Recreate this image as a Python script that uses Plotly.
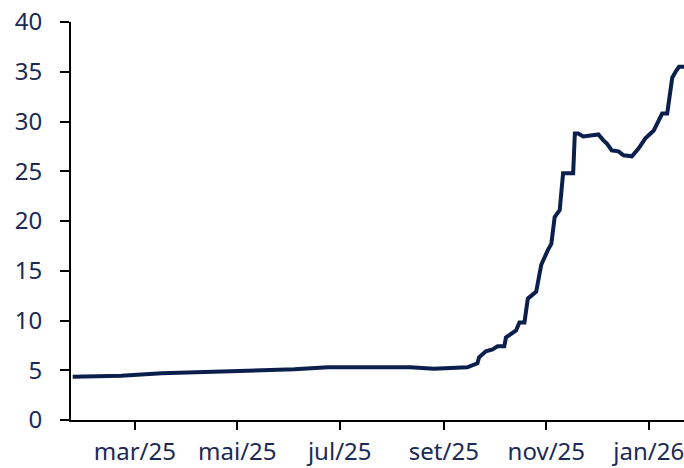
import plotly.graph_objects as go

dates = [
    "2025-01-23", "2025-02-21", "2025-03-17", "2025-04-17", "2025-04-26",
    "2025-05-15", "2025-06-04", "2025-06-24", "2025-08-02", "2025-08-12",
    "2025-08-26", "2025-09-15", "2025-09-21", "2025-09-22", "2025-09-26",
    "2025-09-30", "2025-10-03", "2025-10-07", "2025-10-08", "2025-10-14",
    "2025-10-16", "2025-10-19", "2025-10-21", "2025-10-26", "2025-10-27",
    "2025-10-29", "2025-11-02", "2025-11-04", "2025-11-06", "2025-11-09",
    "2025-11-11", "2025-11-17", "2025-11-18", "2025-11-20", "2025-11-23",
    "2025-12-02", "2025-12-05", "2025-12-07", "2025-12-10", "2025-12-14",
    "2025-12-17", "2025-12-22", "2025-12-26", "2025-12-30", "2026-01-04",
    "2026-01-07", "2026-01-09", "2026-01-12", "2026-01-13", "2026-01-15",
    "2026-01-17", "2026-01-19", "2026-01-22",
]
values = [
    4.35, 4.45, 4.7, 4.82, 4.95,
    5.0, 5.1, 5.3, 5.3, 5.3,
    5.15, 5.3, 5.7, 6.3, 6.9,
    7.1, 7.4, 7.4, 8.3, 9.0,
    9.8, 9.8, 12.2, 12.9, 13.8,
    15.6, 17.1, 17.7, 20.4, 21.1,
    24.8, 24.8, 28.8, 28.8, 28.5,
    28.7, 28.1, 27.8, 27.1, 27.0,
    26.6, 26.5, 27.3, 28.3, 29.1,
    30.1, 30.8, 30.8, 31.8, 34.4,
    35.0, 35.5, 35.5,
]

x_tickvals = ["2025-03-01", "2025-05-01", "2025-07-01", "2025-09-01", "2025-11-01", "2026-01-01"]
x_ticktext = ["mar/25", "mai/25", "jul/25", "set/25", "nov/25", "jan/26"]
y_tickvals = [0, 5, 10, 15, 20, 25, 30, 35, 40]

navy = "#0b1f4d"
label_color = "#1b2a55"

fig = go.Figure(go.Scatter(
    x=dates, y=values, mode="lines",
    line=dict(color=navy, width=4),
    hoverinfo="skip",
))

fig.update_layout(
    width=684, height=468,
    margin=dict(l=71, r=0, t=22, b=48),
    paper_bgcolor="white", plot_bgcolor="white",
    showlegend=False,
    font=dict(family="Noto Sans", size=24, color=label_color),
)
fig.update_xaxes(
    range=["2025-01-22", "2026-01-22"],
    tickvals=x_tickvals, ticktext=x_ticktext,
    showgrid=False, zeroline=False, automargin=False,
    showline=True, linecolor="black", linewidth=2,
    ticks="outside", ticklen=8, tickwidth=2, tickcolor="black",
    ticklabelstandoff=1, ticklabeloverflow="allow",
)
fig.update_yaxes(
    range=[0, 40],
    tickvals=y_tickvals,
    showgrid=False, zeroline=False, automargin=False,
    showline=True, linecolor="black", linewidth=2,
    ticks="outside", ticklen=9, tickwidth=2, tickcolor="black",
    ticklabelstandoff=13, ticklabeloverflow="allow",
)

fig.write_html(
    "out.html",
    config={"displayModeBar": False},
    post_script="document.body.style.margin='0';document.body.style.overflow='hidden';",
)
